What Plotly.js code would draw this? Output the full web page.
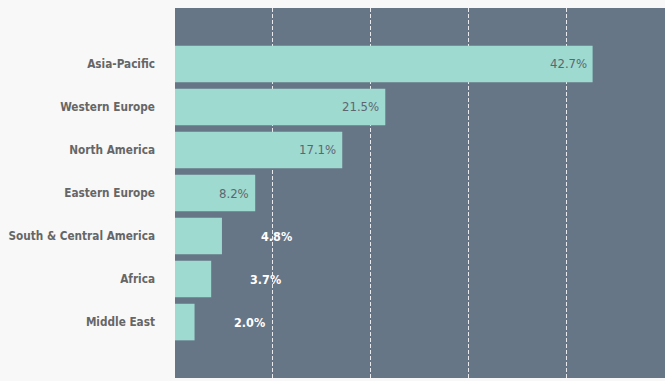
<!DOCTYPE html>
<html>
<head>
<meta charset="utf-8">
<script src="https://cdn.plot.ly/plotly-3.0.1.min.js"></script>
<style>html,body{margin:0;padding:0;background:#f8f8f8;}#chart{width:665px;height:381px;}</style>
</head>
<body>
<div id="chart"></div>
<script>
const regions = ["Asia-Pacific", "Western Europe", "North America", "Eastern Europe", "South & Central America", "Africa", "Middle East"];
const shares = [42.7, 21.5, 17.1, 8.2, 4.8, 3.7, 2.0];
const shareLabels = ["42.7%", "21.5%", "17.1%", "8.2%", "4.8%", "3.7%", "2.0%"];
const insideThreshold = 6;
const condensed = '"Liberation Sans Narrow", "DejaVu Sans Condensed", "Roboto Condensed", "Arial Narrow", sans-serif';

const annotations = shares.map((v, i) => {
  const inside = v > insideThreshold;
  return {
    x: v, y: regions[i], xref: 'x', yref: 'y',
    text: shareLabels[i], showarrow: false,
    xanchor: inside ? 'right' : 'left',
    xshift: inside ? -4 : 37,
    font: inside
      ? {family: condensed, size: 13, color: '#5d6670'}
      : {family: condensed, size: 12.5, color: '#ffffff', weight: 'bold'}
  };
});

const trace = {
  type: 'bar', orientation: 'h',
  x: shares, y: regions,
  marker: {color: '#9edad0', line: {width: 0}},
  hoverinfo: 'none'
};

const layout = {
  width: 665, height: 381,
  margin: {l: 175, r: 0, t: 8, b: 3, pad: 0},
  paper_bgcolor: '#f8f8f8',
  plot_bgcolor: '#677687',
  bargap: 0.15,
  showlegend: false,
  xaxis: {
    range: [0, 50.1], dtick: 10, showticklabels: false, zeroline: false,
    showgrid: true, gridcolor: 'rgba(255,255,255,0.85)', gridwidth: 1, griddash: '4px,2px',
    showline: false, ticks: ''
  },
  yaxis: {
    type: 'category', categoryorder: 'array', categoryarray: regions,
    range: [7.3, -1.3], showgrid: false, zeroline: false, ticks: '',
    ticklabelstandoff: 19,
    tickfont: {family: condensed, size: 11.7, color: '#666666', weight: 'bold'}
  },
  annotations: annotations
};

Plotly.newPlot('chart', [trace], layout, {displayModeBar: false, staticPlot: true});
</script>
</body>
</html>
